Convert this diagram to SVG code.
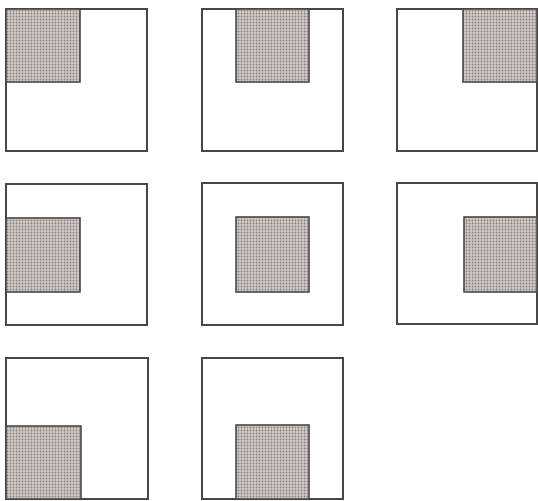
<svg xmlns="http://www.w3.org/2000/svg" width="538" height="501" viewBox="0 0 538 501">
  <defs>
    <pattern id="stipple" width="3" height="3" patternUnits="userSpaceOnUse">
      <rect width="3" height="3" fill="#d2cbc8"/>
      <circle cx="1.5" cy="1.5" r="0.9" fill="#857b78"/>
    </pattern>
  </defs>
  <style>
    .outer { fill: #ffffff; stroke: #4a4646; stroke-width: 2; }
    .inner { fill: url(#stipple); stroke: #4a4646; stroke-width: 1.6; }
  </style>
  <rect width="538" height="501" fill="#ffffff"/>
  <g id="top-left">
    <rect class="outer" x="6" y="9" width="141" height="142"/>
    <rect class="inner" x="6" y="9" width="74" height="73"/>
  </g>
  <g id="top-center">
    <rect class="outer" x="202" y="9" width="141" height="142"/>
    <rect class="inner" x="236" y="9" width="73" height="73"/>
  </g>
  <g id="top-right">
    <rect class="outer" x="397" y="9" width="140" height="142"/>
    <rect class="inner" x="463" y="9" width="74" height="73"/>
  </g>
  <g id="middle-left">
    <rect class="outer" x="6" y="184" width="141" height="141"/>
    <rect class="inner" x="6" y="218" width="74" height="74"/>
  </g>
  <g id="center">
    <rect class="outer" x="202" y="183" width="141" height="142"/>
    <rect class="inner" x="236" y="217" width="73" height="75"/>
  </g>
  <g id="middle-right">
    <rect class="outer" x="397" y="183" width="140" height="141"/>
    <rect class="inner" x="464" y="217" width="73" height="75"/>
  </g>
  <g id="bottom-left">
    <rect class="outer" x="6" y="358" width="142" height="141"/>
    <rect class="inner" x="6" y="426" width="75" height="73"/>
  </g>
  <g id="bottom-center">
    <rect class="outer" x="202" y="358" width="141" height="141"/>
    <rect class="inner" x="236" y="425" width="73" height="74"/>
  </g>
</svg>
